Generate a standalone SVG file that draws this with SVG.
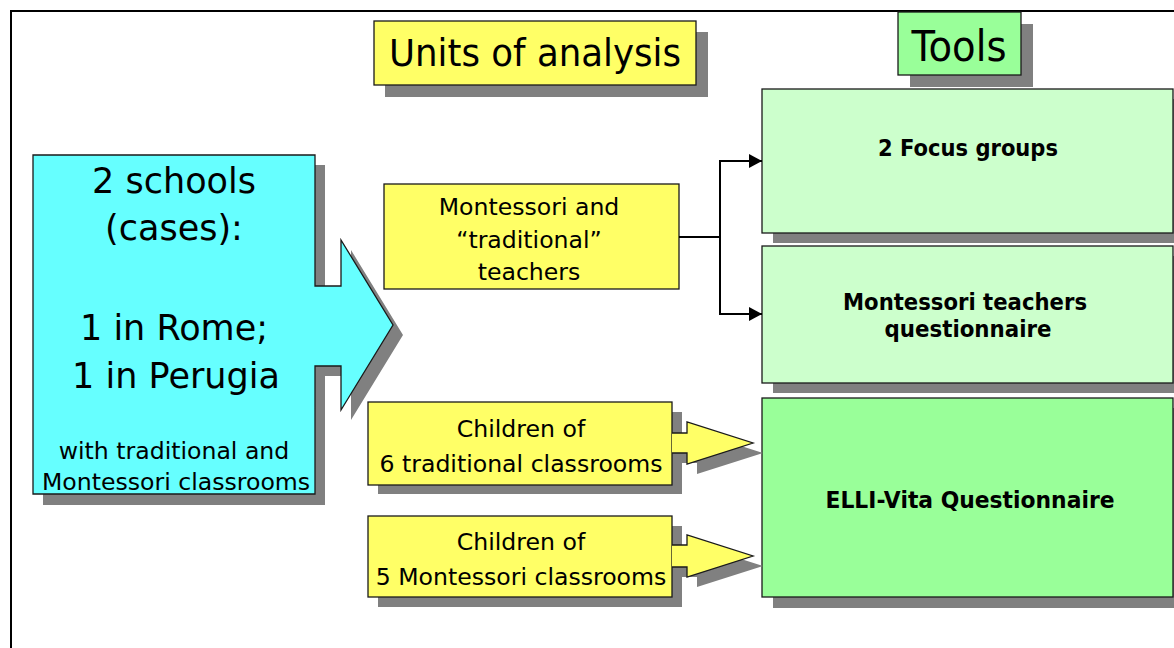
<svg xmlns="http://www.w3.org/2000/svg" width="1174" height="648" viewBox="0 0 1174 648">
  <style>
    .shadow { fill: #808080; stroke: none; }
    .box { stroke: #1a1a1a; stroke-width: 1.3; }
    .yellow { fill: #FFFF66; }
    .cyan { fill: #66FFFF; }
    .lgreen { fill: #CCFFCC; }
    .green { fill: #99FF99; }
    text { font-family: "DejaVu Sans", Verdana, sans-serif; fill: #000; text-anchor: middle; }
    .bold { font-weight: bold; font-size: 23px; }
    .t24 { font-size: 23.6px; }
    .t35 { font-size: 35px; }
    .conn { fill: none; stroke: #000; stroke-width: 2; }
  </style>
  <defs>
    <marker id="arr" markerUnits="userSpaceOnUse" markerWidth="14" markerHeight="16" refX="13" refY="7" orient="auto">
      <path d="M0,0 L13,7 L0,14 Z" fill="#000"/>
    </marker>
  </defs>
  <rect width="1174" height="648" fill="#fff"/>
  <!-- outer frame -->
  <rect x="11" y="11" width="1180" height="660" fill="none" stroke="#000" stroke-width="2"/>

  <g id="title-units">
    <rect class="shadow" x="385" y="32" width="323" height="65"/>
    <rect class="box yellow" x="374" y="21" width="322" height="64"/>
    <text x="535" y="66" style="font-size:37px" textLength="292" lengthAdjust="spacingAndGlyphs">Units of analysis</text>
  </g>

  <g id="title-tools">
    <rect class="shadow" x="910" y="24" width="123" height="63"/>
    <rect class="box green" x="898" y="12" width="123" height="63"/>
    <text x="959" y="61" style="font-size:42px" textLength="95" lengthAdjust="spacingAndGlyphs">Tools</text>
  </g>

  <g id="schools">
    <polygon class="shadow" points="43,165 325,165 325,296 351,296 351,250 403,335 351,420 351,376 325,376 325,505 43,505"/>
    <polygon class="box cyan" points="33,155 315,155 315,286 341,286 341,240 393,325 341,410 341,366 315,366 315,494 33,494"/>
    <text class="t35" x="174" y="193">2 schools</text>
    <text class="t35" x="174" y="240">(cases):</text>
    <text class="t35" x="174" y="340">1 in Rome;</text>
    <text class="t35" x="176" y="388">1 in Perugia</text>
    <text class="t24" x="174" y="459">with traditional and</text>
    <text class="t24" x="176" y="490">Montessori classrooms</text>
  </g>

  <g id="teachers">
    <rect class="box yellow" x="384" y="184" width="295" height="105"/>
    <text class="t24" x="529" y="215">Montessori and</text>
    <text class="t24" x="529" y="248">“traditional”</text>
    <text class="t24" x="529" y="280">teachers</text>
  </g>

  <g id="children-traditional">
    <rect class="shadow" x="378" y="412" width="304" height="82"/>
    <rect class="box yellow" x="368" y="402" width="304" height="83"/>
    <text class="t24" x="521" y="437">Children of</text>
    <text class="t24" x="521" y="472">6 traditional classrooms</text>
  </g>

  <g id="children-montessori">
    <rect class="shadow" x="378" y="526" width="304" height="81"/>
    <rect class="box yellow" x="368" y="516" width="304" height="81"/>
    <text class="t24" x="521" y="550">Children of</text>
    <text class="t24" x="521" y="585">5 Montessori classrooms</text>
  </g>

  <g id="focus-groups">
    <rect class="shadow" x="773" y="99" width="420" height="144"/>
    <rect class="box lgreen" x="762" y="89" width="411" height="144"/>
    <text class="bold" x="968" y="156" textLength="180" lengthAdjust="spacingAndGlyphs">2 Focus groups</text>
  </g>

  <g id="teachers-questionnaire">
    <rect class="shadow" x="773" y="256" width="420" height="137"/>
    <rect class="box lgreen" x="762" y="246" width="411" height="137"/>
    <text class="bold" x="965" y="310" textLength="244" lengthAdjust="spacingAndGlyphs">Montessori teachers</text>
    <text class="bold" x="968" y="337" textLength="167" lengthAdjust="spacingAndGlyphs">questionnaire</text>
  </g>

  <g id="elli-vita">
    <rect class="shadow" x="773" y="408" width="420" height="200"/>
    <rect class="box green" x="762" y="398" width="411" height="199"/>
    <text class="bold" x="970" y="508" textLength="289" lengthAdjust="spacingAndGlyphs">ELLI-Vita Questionnaire</text>
  </g>

  <g id="connectors">
    <path class="conn" d="M679,237 H720 V161 H762" marker-end="url(#arr)"/>
    <path class="conn" d="M720,237 V314 H762" marker-end="url(#arr)"/>
    <!-- block arrows from children boxes -->
    <polygon class="shadow" points="682,443 697,443 697,432 763,453 697,474 697,463 682,463"/>
    <path class="yellow" stroke="#1a1a1a" stroke-width="1.3" d="M672,433 H687 V422 L753,443 L687,464 V453 H672"/>
    <polygon class="shadow" points="682,555 697,555 697,545 763,566 697,587 697,577 682,577"/>
    <path class="yellow" stroke="#1a1a1a" stroke-width="1.3" d="M672,545 H687 V535 L753,556 L687,577 V567 H672"/>
  </g>
</svg>
